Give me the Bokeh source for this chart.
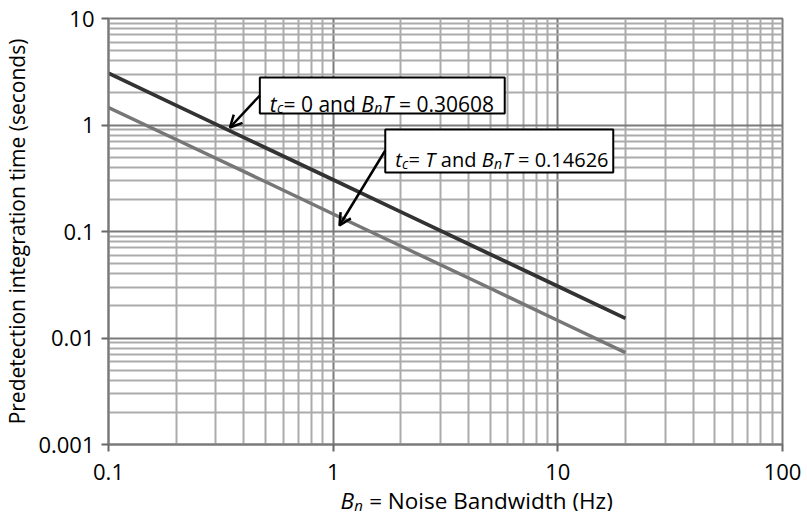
import math
from bokeh.plotting import figure
from bokeh.layouts import column
from bokeh.models import (FixedTicker, CustomJSTickFormatter, Label, BoxAnnotation,
                          Arrow, OpenHead, ColumnDataSource, Range1d)
from bokeh.embed import file_html
from bokeh.resources import INLINE

# ---------------- data ----------------
bn = [0.1, 0.2, 0.5, 1, 2, 5, 10, 20]
t_tc0 = [3.06, 1.53, 0.612, 0.306, 0.153, 0.0612, 0.0306, 0.0153]   # tc = 0, BnT = 0.30608
t_tcT = [1.46, 0.731, 0.293, 0.146, 0.0731, 0.0293, 0.0146, 0.0073]  # tc = T, BnT = 0.14626
x_major = [0.1, 1, 10, 100]
y_major = [0.001, 0.01, 0.1, 1, 10]
mantissas = [2, 3, 4, 5, 6, 7, 8, 9]
x_label = "Noise Bandwidth (Hz)"
y_label = "Predetection integration time (seconds)"
ann1 = [("t", "italic"), ("c", "sub"), ("= 0 and ", "normal"), ("B", "italic"),
        ("n", "sub"), ("T", "italic"), (" = 0.30608", "normal")]
ann2 = [("t", "italic"), ("c", "sub"), ("= ", "normal"), ("T", "italic"),
        (" and ", "normal"), ("B", "italic"), ("n", "sub"), ("T", "italic"),
        (" = 0.14626", "normal")]

FONT = "Open Sans"
GRID_MAJOR = "#7a7a7a"
GRID_MINOR = "#ababab"

# canvas geometry (px); page is drawn from the top-left corner
W = 805
L, T_, R = 105, 18, W - 782
H_MAIN = 496
B_ = H_MAIN - 444
H_LAB, LAB_OVERLAP = 55, 40
FW, FH = W - L - R, H_MAIN - T_ - B_
X0, X1, Y0, Y1 = 0.1, 100, 0.001, 10

p = figure(width=W, height=H_MAIN, x_axis_type="log", y_axis_type="log",
           x_range=(X0, X1), y_range=(Y0, Y1), output_backend="svg", toolbar_location=None,
           min_border_left=L, min_border_top=T_, min_border_right=R, min_border_bottom=B_)
p.outline_line_color = GRID_MAJOR
p.outline_line_width = 2
p.background_fill_color = "white"
p.border_fill_color = "white"

x_minor = [m * d for d in x_major[:-1] for m in mantissas]
y_minor = [m * d for d in y_major[:-1] for m in mantissas]
p.xaxis.ticker = FixedTicker(ticks=x_major, minor_ticks=x_minor)
p.yaxis.ticker = FixedTicker(ticks=y_major, minor_ticks=y_minor)
fmt = CustomJSTickFormatter(code="return tick.toString();")
for ax in (p.xaxis[0], p.yaxis[0]):
    ax.formatter = fmt
    ax.major_label_text_font = FONT
    ax.major_label_text_font_size = "22px"
    ax.major_label_text_color = "black"
    ax.major_tick_in = 0
    ax.major_tick_out = 7
    ax.minor_tick_in = 0
    ax.minor_tick_out = 0
    ax.major_tick_line_color = "#666666"
    ax.major_tick_line_width = 2
    ax.axis_line_color = GRID_MAJOR
    ax.axis_line_width = 2
p.xaxis.major_label_standoff = 12
p.yaxis.major_label_standoff = 7
p.yaxis.axis_label = y_label
p.yaxis.axis_label_text_font = FONT
p.yaxis.axis_label_text_font_size = "21px"
p.yaxis.axis_label_text_font_style = "normal"
p.yaxis.axis_label_text_color = "black"
p.yaxis.axis_label_standoff = 4

for g in (p.xgrid[0], p.ygrid[0]):
    g.grid_line_color = GRID_MAJOR
    g.grid_line_width = 2
    g.minor_grid_line_color = GRID_MINOR
    g.minor_grid_line_width = 2

src = ColumnDataSource(dict(bn=bn, t0=t_tc0, tT=t_tcT))
p.line("bn", "tT", source=src, line_color="#777777", line_width=3.5)
p.line("bn", "t0", source=src, line_color="#333333", line_width=3.7)

# ---- helpers for annotation placement (reference image px -> data) ----
def dx(ix):
    return 10 ** (math.log10(X0) + (ix - L) / FW * (math.log10(X1) - math.log10(X0)))
def dy(iy):
    return 10 ** (math.log10(Y1) - (iy - T_) / FH * (math.log10(Y1) - math.log10(Y0)))

W_REG = {" ": 532, "(": 604, ")": 604, ".": 545, "=": 1171, "B": 1313, "H": 1505, "N": 1493,
         "T": 1114, "a": 1139, "b": 1255, "c": 975, "d": 1255, "e": 1149, "h": 1257, "i": 518,
         "n": 1257, "o": 1237, "s": 977, "t": 723, "w": 1608, "z": 1032}
W_IT = {" ": 532, "t": 700, "c": 950, "B": 1260, "n": 1230, "T": 1070}
def width(s, italic, size):
    tbl = W_IT if italic else W_REG
    return sum(tbl.get(ch, 1171) for ch in s) / 2048 * size

def rich(fig, pieces, x, y, size=21, sub_size=14, sub_drop=4):
    off = 0.0
    for txt, style in pieces:
        italic = style != "normal"
        fs = sub_size if style == "sub" else size
        yo = -sub_drop if style == "sub" else 0
        lead = len(txt) - len(txt.lstrip(" "))
        off += width(" " * lead, italic, fs)
        body = txt.strip(" ")
        if body:
            fig.add_layout(Label(x=x, y=y, x_offset=off, y_offset=yo, text=body, text_font=FONT,
                                 text_font_size=f"{fs}px",
                                 text_font_style="italic" if italic else "normal",
                                 text_color="black", text_align="left",
                                 text_baseline="alphabetic"))
        off += width(txt.lstrip(" "), italic, fs)

def note(pieces, box, arrow, text_at, size):
    l, t, r, b = box
    p.add_layout(BoxAnnotation(left=dx(l), right=dx(r), top=dy(t), bottom=dy(b),
                               fill_color="white", fill_alpha=1, line_color="black",
                               line_alpha=1, line_width=2, level="annotation"))
    (x0, y0), (x1, y1) = arrow
    p.add_layout(Arrow(x_start=dx(x0), y_start=dy(y0), x_end=dx(x1), y_end=dy(y1),
                       line_color="black", line_width=2.5,
                       end=OpenHead(size=12, line_width=2.5, line_color="black")))
    rich(p, pieces, dx(text_at[0]), dy(text_at[1]), size=size)

note(ann1, (257, 77, 503, 113), ((257, 95), (227, 127)), (267, 103), 21)
note(ann2, (383, 129, 612, 172), ((383, 150), (337, 225)), (393, 159), 20)

# ---- x-axis label strip (transparent, overlapping the bottom of the main plot) ----
lab = figure(width=W, height=H_LAB, x_range=Range1d(L, W - R), y_range=Range1d(0, H_LAB),
             output_backend="svg", toolbar_location=None,
             min_border_left=L, min_border_right=R, min_border_top=0, min_border_bottom=0,
             x_axis_location=None, y_axis_location=None)
lab.margin = (-LAB_OVERLAP, 0, 0, 0)
lab.grid.visible = False
lab.outline_line_color = None
lab.background_fill_alpha = 0
lab.border_fill_alpha = 0
bottom = H_MAIN + H_LAB - LAB_OVERLAP
rich(lab, [("B", "italic"), ("n", "sub"), (" = " + x_label, "normal")], 338,
     bottom - 500, size=22.5, sub_size=15, sub_drop=4)

layout = column(p, lab, spacing=0)
open("out.html", "w").write(file_html(layout, INLINE))
